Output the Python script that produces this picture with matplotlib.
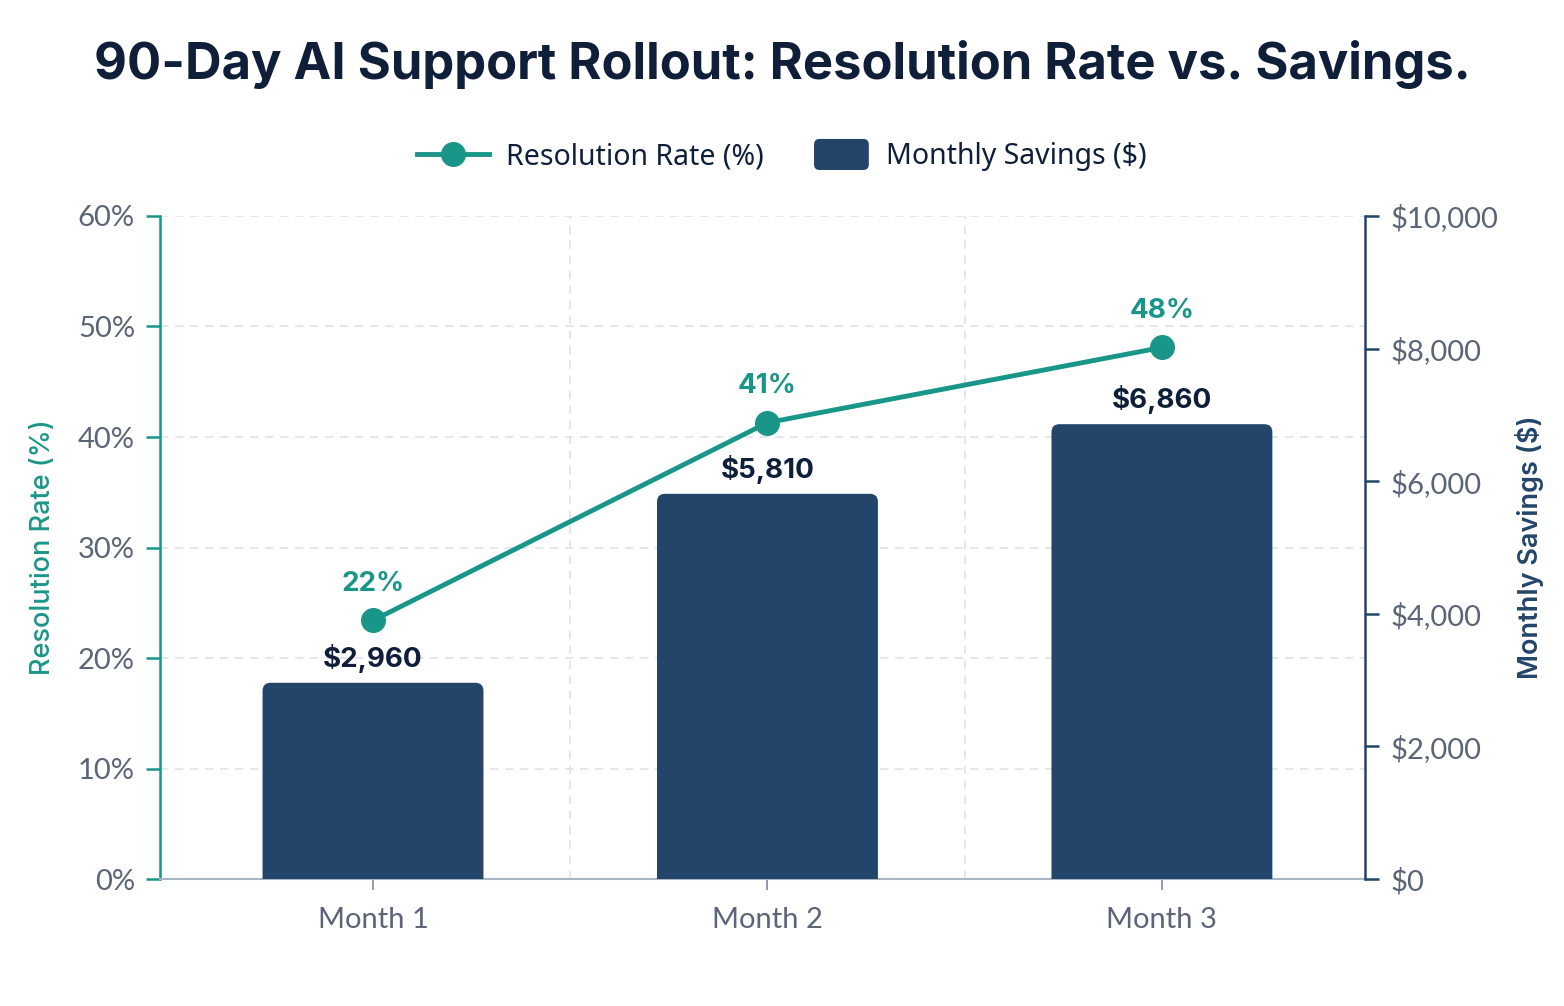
import matplotlib
matplotlib.use("Agg")
import matplotlib.pyplot as plt
from matplotlib.patches import FancyBboxPatch, Patch
from matplotlib.lines import Line2D
from matplotlib.legend_handler import HandlerPatch
from matplotlib.ticker import FuncFormatter

# ---- data ----
months = ["Month 1", "Month 2", "Month 3"]
resolution_rate = [23.4, 41.3, 48.1]
resolution_labels = ["22%", "41%", "48%"]
monthly_savings = [2960, 5810, 6860]
pct_ticks = [0, 10, 20, 30, 40, 50, 60]
dollar_ticks = [0, 2000, 4000, 6000, 8000, 10000]

TEAL = "#1a9688"
NAVY = "#23456a"
DARK = "#0f1f3a"
GREY = "#5b6577"
GRID = "#dfe3ea"

plt.rcParams['font.family'] = ['Lato', 'DejaVu Sans']

fig = plt.figure(figsize=(15.64, 10.06), dpi=100)
fig.patch.set_facecolor("white")
ax = fig.add_axes([0.1023, 0.1262, 0.7705, 0.6591])
ax2 = ax.twinx()
ax3 = ax.twinx()

x = list(range(len(months)))

# base axis: percent ticks + grid
ax.set_xlim(-0.54, 2.515)
ax.set_ylim(0, 60)
ax.set_yticks(pct_ticks)
ax.yaxis.set_major_formatter(FuncFormatter(lambda v, p: f"{v:.0f}%"))
ax.set_xticks(x)
ax.set_xticklabels(months)
ax.set_xticks([0.5, 1.5], minor=True)
ax.grid(axis='y', which='major', color=GRID, linestyle=(0, (5, 4)), linewidth=1.2)
ax.grid(axis='x', which='minor', color=GRID, linestyle=(0, (5, 4)), linewidth=1.2)
ax.tick_params(axis='x', which='minor', length=0)
ax.tick_params(axis='x', which='major', length=8, width=1.3, color="#8a94a6",
               labelsize=21, labelcolor=GREY, pad=12)
ax.tick_params(axis='y', length=10, width=1.8, color=TEAL, labelsize=21,
               labelcolor=GREY, pad=8)
ax.spines['left'].set_color(TEAL)
ax.spines['left'].set_linewidth(1.8)
ax.spines['bottom'].set_color("#a9b4c4")
ax.spines['bottom'].set_linewidth(1.5)
ax.spines['top'].set_visible(False)
ax.spines['right'].set_visible(False)
ax.set_ylabel("Resolution Rate (%)", color=TEAL, fontsize=19.5, labelpad=16,
              family=['Inter', 'DejaVu Sans'], fontweight='medium')

# bars on dollar axis
ax2.set_ylim(0, 10000)
ax2.set_yticks(dollar_ticks)
ax2.yaxis.set_major_formatter(FuncFormatter(lambda v, p: f"${v:,.0f}"))
ax2.tick_params(axis='y', length=10, width=1.8, color=NAVY, labelsize=21,
                labelcolor=GREY, pad=8)
for s in ['left', 'top', 'bottom']:
    ax2.spines[s].set_visible(False)
ax2.spines['right'].set_color(NAVY)
ax2.spines['right'].set_linewidth(1.8)
ax2.set_ylabel("Monthly Savings ($)", color=NAVY, fontsize=19.5, labelpad=12,
               family=['Inter', 'DejaVu Sans'], fontweight='semibold')

bars = ax2.bar(x, monthly_savings, width=0.56, color=NAVY)
fig.canvas.draw()
bb = ax2.get_window_extent()
xr = (ax2.get_xlim()[1] - ax2.get_xlim()[0]) / bb.width
yr = (ax2.get_ylim()[1] - ax2.get_ylim()[0]) / bb.height
for b, v in zip(bars, monthly_savings):
    b.set_visible(False)
    r = 8 * xr
    p = FancyBboxPatch((b.get_x(), -400), b.get_width(), b.get_height() + 400,
                       boxstyle=f"round,pad=0,rounding_size={r}",
                       mutation_aspect=yr / xr, facecolor=NAVY, edgecolor='none',
                       clip_on=True)
    ax2.add_patch(p)
    ax2.annotate(f"${v:,}", (b.get_x() + b.get_width() / 2, v), xytext=(0, 7),
                 textcoords='offset points', ha='center', va='bottom',
                 fontsize=20, fontweight='bold', color=DARK,
                 family=['Inter', 'DejaVu Sans'])

# line on top
ax3.set_ylim(0, 60)
ax3.axis('off')
ax3.plot(x, resolution_rate, color=TEAL, linewidth=3.5, marker='o',
         markersize=17, solid_capstyle='round')
for xi, v, lab in zip(x, resolution_rate, resolution_labels):
    ax3.annotate(lab, (xi, v), xytext=(0, 17), textcoords='offset points',
                 ha='center', va='bottom', fontsize=20, fontweight='bold',
                 color=TEAL, family=['Inter', 'DejaVu Sans'])

# title
fig.text(0.5, 0.936, "90-Day AI Support Rollout: Resolution Rate vs. Savings.",
         ha='center', va='center', fontsize=36.5, fontweight='bold', color=DARK,
         family=['Inter', 'DejaVu Sans'])


# legend
class RoundHandler(HandlerPatch):
    def create_artists(self, legend, orig_handle, xdescent, ydescent, width,
                       height, fontsize, trans):
        w = width * 0.77
        p = FancyBboxPatch((-xdescent + width - w, -ydescent - 4), w, height + 8,
                           boxstyle="round,pad=0,rounding_size=4",
                           facecolor=orig_handle.get_facecolor(),
                           edgecolor='none', transform=trans)
        return [p]


h1 = Line2D([], [], color=TEAL, linewidth=3.5, marker='o', markersize=17)
h2 = Patch(facecolor=NAVY)
fig.legend([h1, h2], ["Resolution Rate (%)", "Monthly Savings ($)"],
           loc='center', bbox_to_anchor=(0.5, 0.844), ncol=2, frameon=False,
           prop={'family': ['Noto Sans', 'DejaVu Sans'], 'size': 20.5},
           labelcolor=DARK, handlelength=2.5, handletextpad=0.6,
           columnspacing=1.2, handler_map={Patch: RoundHandler()})

fig.savefig("out.png", dpi=100, facecolor="white")
